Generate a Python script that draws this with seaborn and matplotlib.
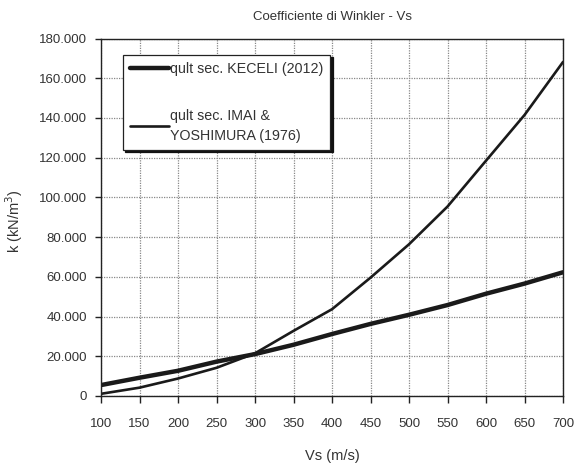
import matplotlib
matplotlib.use("Agg")
import matplotlib.pyplot as plt
from matplotlib.ticker import FuncFormatter, MultipleLocator
import seaborn as sns
import pandas as pd

# Shear-wave velocity (m/s)
vs = [100, 150, 200, 250, 300, 350, 400, 450, 500, 550, 600, 650, 700]
# Winkler coefficient k (kN/m^3) from ultimate bearing capacity
k_keceli = [5500, 9200, 12700, 17300, 21100, 25800, 31200, 36300, 40900, 45800, 51500, 56600, 62300]
k_imai = [1100, 4200, 8800, 14200, 21500, 32800, 43700, 59600, 76400, 95400, 118500, 141500, 168200]

label_keceli = "qult sec. KECELI (2012)"
label_imai = "qult sec. IMAI &\nYOSHIMURA (1976)"

df = pd.DataFrame({
    "Vs": vs * 2,
    "k": k_keceli + k_imai,
    "serie": [label_keceli] * len(vs) + [label_imai] * len(vs),
})

sns.set_style("ticks")
plt.rcParams["font.family"] = ["Liberation Sans", "DejaVu Sans"]
text_col = "#333333"

fig = plt.figure(figsize=(5.75, 4.65), dpi=100)
ax = fig.add_axes([0.1757, 0.1484, 0.8035, 0.7688])

sns.lineplot(data=df, x="Vs", y="k", hue="serie", size="serie",
             palette={label_keceli: "#1a1a1a", label_imai: "#1a1a1a"},
             sizes={label_keceli: 3.2, label_imai: 1.9},
             hue_order=[label_keceli, label_imai], ax=ax, legend=True)

ax.set_xlim(100, 700)
ax.set_ylim(0, 180000)
ax.xaxis.set_major_locator(MultipleLocator(50))
ax.yaxis.set_major_locator(MultipleLocator(20000))
ax.yaxis.set_major_formatter(FuncFormatter(lambda v, p: f"{int(v):,}".replace(",", ".")))

ax.grid(True, color="#888888", linestyle=(0, (1, 1)), linewidth=0.9)
for s in ax.spines.values():
    s.set_color("#222222")
    s.set_linewidth(1.0)
ax.tick_params(axis="x", direction="out", length=5, width=1, colors="#222222",
               labelcolor=text_col, labelsize=9.5, pad=11)
ax.tick_params(axis="y", direction="out", length=4, width=1, colors="#222222",
               labelcolor=text_col, labelsize=9.5, pad=6)

ax.set_title("Coefficiente di Winkler - Vs", fontsize=9.5, color=text_col, pad=13)
ax.set_xlabel("Vs (m/s)", fontsize=10.5, color=text_col)
ax.set_ylabel("k (kN/m$^3$)", fontsize=10.5, color=text_col)
ax.xaxis.set_label_coords(0.5, -0.148)
ax.yaxis.set_label_coords(-0.165, 0.49)

handles, labels = ax.get_legend_handles_labels()
leg = ax.legend(handles, labels, loc="upper left", bbox_to_anchor=(0.047, 0.954),
                borderaxespad=0, frameon=True, fancybox=False,
                shadow={"color": "#111111", "alpha": 1.0, "ox": 1.6, "oy": -1.4},
                fontsize=10.3, handlelength=2.7, handletextpad=0.1,
                labelspacing=2.3, borderpad=0.5)
leg.get_frame().set_edgecolor("#222222")
leg.get_frame().set_linewidth(0.9)
leg.get_frame().set_alpha(1)
for t in leg.get_texts():
    t.set_color(text_col)
    t.set_linespacing(1.5)

fig.savefig("out.png", dpi=100, facecolor="white")
